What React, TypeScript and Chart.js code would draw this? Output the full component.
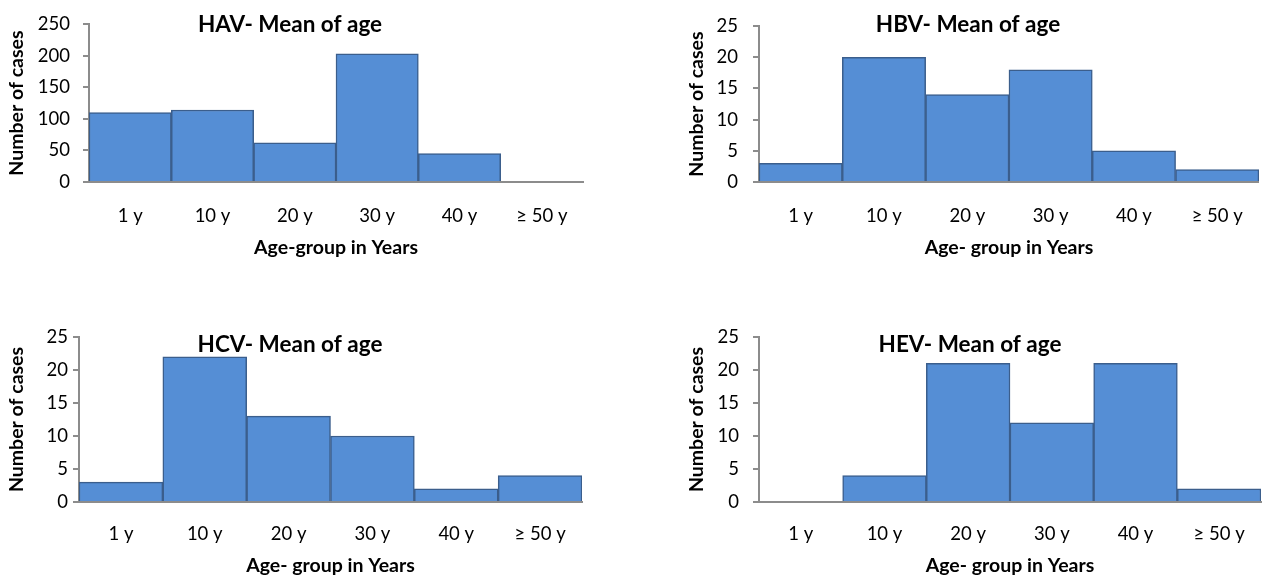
import React, { useEffect, useRef } from "react";
import { Chart, registerables } from "chart.js";

Chart.register(...registerables);

// ---- data ----
const categories = ["1 y", "10 y", "20 y", "30 y", "40 y", "≥ 50 y"];
const havCases = [110, 114, 62, 203, 45, 0];
const hbvCases = [3, 20, 14, 18, 5, 2];
const hcvCases = [3, 22, 13, 10, 2, 4];
const hevCases = [0, 4, 21, 12, 21, 2];
const havYTicks = [0, 50, 100, 150, 200, 250];
const smallYTicks = [0, 5, 10, 15, 20, 25];
const yAxisTitle = "Number of cases";

// ---- styles ----
const FILL = "#558ed5";
const EDGE = "#3b5e8c";
const AXIS = "#8c8c8c";
const TEXT = "#000000";
const FAMILY = "Lato, 'Open Sans', sans-serif";
const TICK_SIZE = 18.5;
const AXIS_TITLE_SIZE = 19.5;
const CHART_TITLE_SIZE = 22.5;
const LH = 1.2;
const TICK_LEN = 6;

type Layout = {
  x: number; y: number; w: number; h: number;
  areaLeft: number; areaRight: number; areaTop: number; areaBottom: number;
  yTickRight: number; yTitleX: number; xTickY: number; xTitleY: number;
  titleX: number; titleBaseline: number;
};

type Panel = {
  title: string;
  xTitle: string;
  values: number[];
  yTicks: number[];
  layout: Layout;
};

const panels: Panel[] = [
  {
    title: "HAV- Mean of age",
    xTitle: "Age-group in Years",
    values: havCases,
    yTicks: havYTicks,
    layout: { x: 0, y: 0, w: 600, h: 280, areaLeft: 89, areaRight: 583, areaTop: 17, areaBottom: 182, yTickRight: 70, yTitleX: 17, xTickY: 216, xTitleY: 248, titleX: 290, titleBaseline: 32 },
  },
  {
    title: "HBV- Mean of age",
    xTitle: "Age- group in Years",
    values: hbvCases,
    yTicks: smallYTicks,
    layout: { x: 660, y: 0, w: 606, h: 280, areaLeft: 99, areaRight: 603, areaTop: 17, areaBottom: 182, yTickRight: 78, yTitleX: 37, xTickY: 216, xTitleY: 248, titleX: 308, titleBaseline: 32 },
  },
  {
    title: "HCV- Mean of age",
    xTitle: "Age- group in Years",
    values: hcvCases,
    yTicks: smallYTicks,
    layout: { x: 0, y: 300, w: 600, h: 276, areaLeft: 79, areaRight: 582, areaTop: 37, areaBottom: 202, yTickRight: 68, yTitleX: 17, xTickY: 234, xTitleY: 266, titleX: 290, titleBaseline: 52 },
  },
  {
    title: "HEV- Mean of age",
    xTitle: "Age- group in Years",
    values: hevCases,
    yTicks: smallYTicks,
    layout: { x: 660, y: 300, w: 606, h: 276, areaLeft: 99, areaRight: 602, areaTop: 37, areaBottom: 202, yTickRight: 79, yTitleX: 37, xTickY: 234, xTitleY: 266, titleX: 310, titleBaseline: 52 },
  },
];

const panelTitlePlugin = {
  id: "panelTitle",
  afterDraw(chart: any, _args: any, opts: any) {
    const ctx = chart.ctx;
    ctx.save();
    ctx.font = `bold ${CHART_TITLE_SIZE}px ${FAMILY}`;
    ctx.fillStyle = TEXT;
    ctx.textAlign = "center";
    ctx.textBaseline = "alphabetic";
    ctx.fillText(opts.text, opts.x, opts.y);
    ctx.restore();
  },
};

function HistPanel({ panel }: { panel: Panel }) {
  const ref = useRef<HTMLCanvasElement>(null);
  const L = panel.layout;

  useEffect(() => {
    if (!ref.current) return;
    const tickFont = { family: FAMILY, size: TICK_SIZE, lineHeight: LH };
    const titleFont = { family: FAMILY, size: AXIS_TITLE_SIZE, weight: "bold" as const, lineHeight: LH };
    const tickLH = TICK_SIZE * LH;
    const titleLH = AXIS_TITLE_SIZE * LH;
    const yMax = panel.yTicks[panel.yTicks.length - 1];
    const yStep = panel.yTicks[1] - panel.yTicks[0];

    const chart = new Chart(ref.current, {
      type: "bar",
      data: {
        labels: categories,
        datasets: [
          {
            data: panel.values,
            backgroundColor: FILL,
            borderColor: EDGE,
            borderWidth: 1.5,
            borderSkipped: "bottom",
            barPercentage: 1,
            categoryPercentage: 1,
          },
        ],
      },
      options: {
        responsive: false,
        maintainAspectRatio: false,
        animation: false,
        devicePixelRatio: 1,
        layout: {
          padding: { left: 0, top: L.areaTop, right: L.w - L.areaRight, bottom: 0 },
        },
        plugins: {
          legend: { display: false },
          tooltip: { enabled: false },
          title: { display: false },
          // @ts-ignore
          panelTitle: { text: panel.title, x: L.titleX, y: L.titleBaseline },
        },
        scales: {
          x: {
            type: "category",
            offset: true,
            grid: { display: false, drawTicks: false },
            border: { display: true, color: AXIS, width: 2 },
            ticks: {
              color: TEXT,
              font: tickFont,
              maxRotation: 0,
              autoSkip: false,
              padding: L.xTickY - L.areaBottom - tickLH / 2,
            },
            title: {
              display: true,
              text: panel.xTitle,
              color: TEXT,
              font: titleFont,
              padding: { top: 0, bottom: L.h - L.xTitleY - titleLH / 2 },
            },
            afterFit: (s: any) => {
              s.height = L.h - L.areaBottom;
            },
          },
          y: {
            min: 0,
            max: yMax,
            ticks: {
              stepSize: yStep,
              color: TEXT,
              font: tickFont,
              padding: L.areaLeft - TICK_LEN - L.yTickRight,
            },
            grid: {
              display: true,
              drawOnChartArea: false,
              drawTicks: true,
              tickLength: TICK_LEN,
              color: AXIS,
              lineWidth: 2,
            },
            border: { display: true, color: AXIS, width: 2 },
            title: {
              display: true,
              text: yAxisTitle,
              color: TEXT,
              font: titleFont,
              padding: { top: L.yTitleX - titleLH / 2, bottom: 0 },
            },
            afterFit: (s: any) => {
              s.width = L.areaLeft;
            },
          },
        },
      },
      plugins: [panelTitlePlugin],
    } as any);
    return () => chart.destroy();
  }, [panel]);

  return (
    <canvas
      ref={ref}
      width={L.w}
      height={L.h}
      style={{ position: "absolute", left: L.x, top: L.y, width: L.w, height: L.h }}
    />
  );
}

export default function App() {
  return (
    <div style={{ position: "absolute", left: 0, top: 0, width: 1266, height: 576, background: "#ffffff", overflow: "hidden" }}>
      {panels.map((p) => (
        <HistPanel key={p.title} panel={p} />
      ))}
    </div>
  );
}
